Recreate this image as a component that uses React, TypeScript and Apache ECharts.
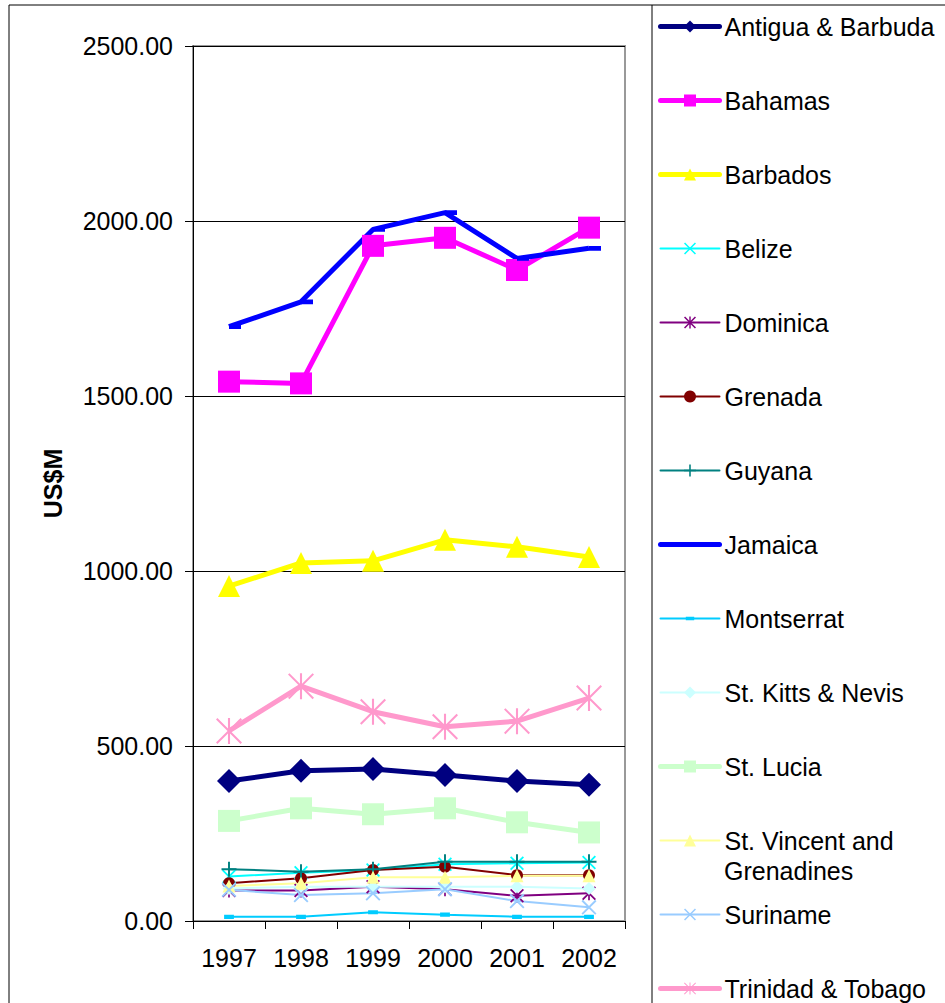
import React, { useEffect, useRef } from "react";
import * as echarts from "echarts";

const years = ["1997", "1998", "1999", "2000", "2001", "2002"];
const yTicks = [0, 500, 1000, 1500, 2000, 2500];

const antigua = [400, 429, 434, 417, 400, 389];
const bahamas = [1541, 1536, 1929, 1952, 1860, 1981];
const barbados = [957, 1023, 1029, 1089, 1069, 1040];
const belize = [127, 138, 146, 162, 165, 167];
const dominica = [87, 87, 98, 91, 72, 79];
const grenada = [108, 122, 146, 155, 131, 131];
const guyana = [148, 141, 148, 169, 169, 169];
const jamaica = [1698, 1769, 1976, 2024, 1893, 1922];
const montserrat = [12, 12, 25, 18, 12, 12];
const stKitts = [93, 98, 98, 98, 98, 93];
const stLucia = [286, 322, 305, 322, 282, 253];
const stVincent = [100, 108, 125, 125, 129, 129];
const suriname = [89, 74, 79, 91, 57, 39];
const trinidad = [543, 671, 598, 555, 571, 637];

const FONT = "'Liberation Sans', Arial, Helvetica, sans-serif";

function crossPath(t: number) {
  return `M0 ${t} L${t} 0 L20 ${20 - t} L${20 - t} 20 Z M${20 - t} 0 L20 ${t} L${t} 20 L0 ${20 - t} Z`;
}
function vBar(h: number) {
  return `M${10 - h} 0 L${10 + h} 0 L${10 + h} 20 L${10 - h} 20 Z`;
}
function hBar(h: number) {
  return `M20 ${10 - h} L20 ${10 + h} L0 ${10 + h} L0 ${10 - h} Z`;
}
const bboxPts = "M0 0 L0.01 0 L0 0.01 Z M20 20 L19.99 20 L20 19.99 Z";
const X_THIN = "path://" + crossPath(1.8);
const AST_THIN = "path://" + crossPath(1.8) + " " + vBar(1.2);
const AST_THICK = "path://" + crossPath(1.1) + " " + vBar(0.8);
const PLUS = "path://" + vBar(1.3) + " " + hBar(1.3);
const DASH = "path://" + bboxPts + " M3 7 L17 7 L17 13 L3 13 Z";
const DASH_R = "path://" + bboxPts + " M10 8 L20 8 L20 12 L10 12 Z";

const seriesMeta = [
  { name: "Antigua & Barbuda", data: antigua, color: "#000080", symbol: "diamond", size: 24, width: 5 },
  { name: "Bahamas", data: bahamas, color: "#FF00FF", symbol: "rect", size: 22, width: 5 },
  { name: "Barbados", data: barbados, color: "#FFFF00", symbol: "triangle", size: 22, width: 5 },
  { name: "Belize", data: belize, color: "#00FFFF", symbol: X_THIN, size: 14, width: 2 },
  { name: "Dominica", data: dominica, color: "#800080", symbol: AST_THIN, size: 14, width: 2 },
  { name: "Grenada", data: grenada, color: "#800000", symbol: "circle", size: 12, width: 2 },
  { name: "Guyana", data: guyana, color: "#008080", symbol: PLUS, size: 15, width: 2 },
  { name: "Jamaica", data: jamaica, color: "#0000FF", symbol: DASH_R, size: 24, width: 5 },
  { name: "Montserrat", data: montserrat, color: "#00CCFF", symbol: DASH, size: 14, width: 2 },
  { name: "St. Kitts & Nevis", data: stKitts, color: "#CCFFFF", symbol: "diamond", size: 13, width: 2 },
  { name: "St. Lucia", data: stLucia, color: "#CCFFCC", symbol: "rect", size: 22, width: 5 },
  { name: "St. Vincent and Grenadines", data: stVincent, color: "#FFFF99", symbol: "triangle", size: 13, width: 2 },
  { name: "Suriname", data: suriname, color: "#99CCFF", symbol: X_THIN, size: 15, width: 2 },
  { name: "Trinidad & Tobago", data: trinidad, color: "#FF99CC", symbol: AST_THICK, size: 26, width: 5 },
];

export default function App() {
  const ref = useRef<HTMLDivElement>(null);
  useEffect(() => {
    if (!ref.current) return;
    const chart = echarts.init(ref.current, null, { renderer: "svg" });
    chart.setOption({
      animation: false,
      backgroundColor: "#ffffff",
      textStyle: { fontFamily: FONT },
      grid: {
        left: 193,
        top: 46,
        right: 320,
        bottom: 82,
        show: true,
        borderColor: "#999999",
        borderWidth: 2,
        backgroundColor: "transparent",
      },
      xAxis: {
        type: "category",
        data: years,
        boundaryGap: true,
        axisLine: { lineStyle: { color: "#000", width: 1 } },
        axisTick: { show: true, length: 8, lineStyle: { color: "#000" } },
        axisLabel: { color: "#000", fontSize: 25, fontFamily: FONT, margin: 24, interval: 0 },
      },
      yAxis: {
        type: "value",
        min: yTicks[0],
        max: yTicks[yTicks.length - 1],
        interval: 500,
        name: "US$M",
        nameLocation: "middle",
        nameRotate: 90,
        nameGap: 128,
        nameTextStyle: { color: "#000", fontSize: 25, fontWeight: "bold", fontFamily: FONT },
        axisLine: { show: true, lineStyle: { color: "#000", width: 1 } },
        axisTick: { show: true, length: 8, lineStyle: { color: "#000" } },
        axisLabel: {
          color: "#000",
          fontSize: 25,
          fontFamily: FONT,
          margin: 20,
          formatter: (v: number) => v.toFixed(2),
        },
        splitLine: { show: true, lineStyle: { color: "#000", width: 1 } },
      },
      legend: {
        orient: "vertical",
        left: 658,
        top: 14,
        height: 1000,
        padding: 0,
        itemWidth: 59,
        itemHeight: 15,
        itemGap: 49,
        selectedMode: false,
        textStyle: { color: "#000", fontSize: 25, lineHeight: 20, fontFamily: FONT },
        formatter: (name: string) => (name === "St. Vincent and Grenadines" ? "St. Vincent and" : name),
        data: seriesMeta.map((s) => ({
          name: s.name,
          lineStyle: { width: s.width, color: s.color, cap: "round" },
        })),
      },
      graphic: [
        { type: "line", shape: { x1: 9, y1: 5, x2: 945, y2: 5 }, style: { stroke: "#000", lineWidth: 1 }, silent: true },
        { type: "line", shape: { x1: 9, y1: 5, x2: 9, y2: 1003 }, style: { stroke: "#000", lineWidth: 1 }, silent: true },
        { type: "line", shape: { x1: 652, y1: 5, x2: 652, y2: 1003 }, style: { stroke: "#000", lineWidth: 1 }, silent: true },
        {
          type: "text",
          x: 724,
          y: 871,
          style: { text: "Grenadines", fill: "#000", fontSize: 25, fontFamily: FONT, verticalAlign: "middle", align: "left" },
          silent: true,
        },
      ],
      series: seriesMeta.map((s) => ({
        name: s.name,
        type: "line",
        data: s.data,
        symbol: s.symbol,
        symbolSize: s.size,
        showAllSymbol: true,
        color: s.color,
        lineStyle: { color: s.color, width: s.width },
        itemStyle: { color: s.color, borderWidth: 0 },
        emphasis: { disabled: true },
      })),
    });
    return () => chart.dispose();
  }, []);
  return (
    <div
      ref={ref}
      style={{ position: "fixed", left: 0, top: 0, width: 945, height: 1003, background: "#fff" }}
    />
  );
}
